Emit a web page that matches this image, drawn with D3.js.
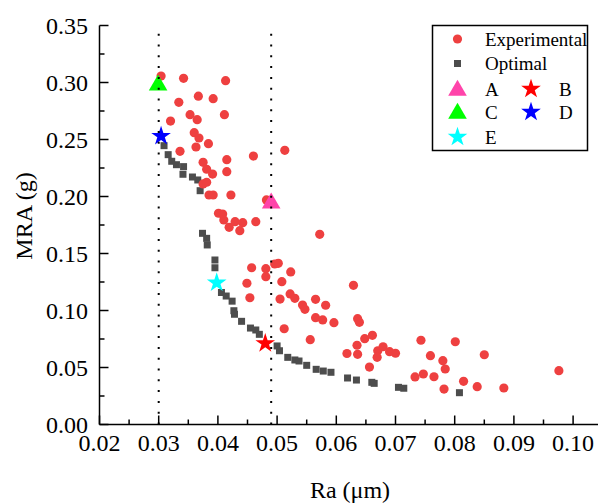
<!DOCTYPE html>
<html>
<head>
<meta charset="utf-8">
<script src="https://cdn.jsdelivr.net/npm/d3@7"></script>
<style>
  body { margin: 0; background: white; }
  svg { display: block; font-family: "Liberation Serif", "Times New Roman", serif; }
</style>
</head>
<body>
<div id="chart"></div>
<script>
// ----------------------------------------
// DATA
// ----------------------------------------
const expRa = [0.0304, 0.0342, 0.0413, 0.0367, 0.0392, 0.0334, 0.0353, 0.0365, 0.0411, 0.0320,
  0.0360, 0.0368, 0.0363, 0.0384, 0.0336, 0.0415, 0.0460, 0.0513, 0.0375, 0.0381,
  0.0391, 0.0415, 0.0375, 0.0381, 0.0385, 0.0392, 0.0422, 0.0482, 0.0401, 0.0408,
  0.0410, 0.0429, 0.0442, 0.0419, 0.0437, 0.0464, 0.0572, 0.0457, 0.0481, 0.0496,
  0.0502, 0.0523, 0.0481, 0.0449, 0.0508, 0.0454, 0.0505, 0.0522, 0.0530, 0.0543,
  0.0547, 0.0565, 0.0582, 0.0565, 0.0577, 0.0596, 0.0512, 0.0556, 0.0618, 0.0629,
  0.0636, 0.0639, 0.0648, 0.0661, 0.0635, 0.0636, 0.0679, 0.0670, 0.0669, 0.0690,
  0.0700, 0.0656, 0.0743, 0.0801, 0.0759, 0.0780, 0.0784, 0.0850, 0.0747, 0.0733,
  0.0765, 0.0815, 0.0782, 0.0838, 0.0883, 0.0976];
const expMRA = [0.3057, 0.3037, 0.3016, 0.2880, 0.2858, 0.2826, 0.2718, 0.2674, 0.2718, 0.2662,
  0.2560, 0.2513, 0.2434, 0.2463, 0.2396, 0.2323, 0.2355, 0.2405, 0.2300, 0.2239,
  0.2197, 0.2218, 0.2110, 0.2125, 0.2013, 0.2013, 0.2013, 0.1970, 0.1853, 0.1846,
  0.1794, 0.1779, 0.1770, 0.1730, 0.1700, 0.1779, 0.1668, 0.1375, 0.1367, 0.1408,
  0.1414, 0.1338, 0.1297, 0.1239, 0.1253, 0.1112, 0.1100, 0.1145, 0.1107, 0.1048,
  0.1010, 0.1098, 0.1046, 0.0937, 0.0917, 0.0893, 0.0840, 0.0744, 0.0623, 0.1221,
  0.0928, 0.0896, 0.0753, 0.0782, 0.0695, 0.0616, 0.0682, 0.0647, 0.0589, 0.0639,
  0.0625, 0.0504, 0.0739, 0.0726, 0.0604, 0.0560, 0.0487, 0.0612, 0.0443, 0.0417,
  0.0419, 0.0379, 0.0311, 0.0332, 0.0320, 0.0472];

const optRa = [0.0309, 0.0316, 0.0322, 0.0330, 0.0342, 0.0341, 0.0357, 0.0366, 0.0370, 0.0374,
  0.0381, 0.0382, 0.0395, 0.0395, 0.0406, 0.0414, 0.0424, 0.0427, 0.0428, 0.0440,
  0.0455, 0.0464, 0.0470, 0.0500, 0.0504, 0.0518, 0.0530, 0.0537, 0.0550, 0.0566,
  0.0578, 0.0591, 0.0619, 0.0634, 0.0660, 0.0664, 0.0705, 0.0714, 0.0808];
const optMRA = [0.2446, 0.2367, 0.2309, 0.2279, 0.2262, 0.2195, 0.2171, 0.2145, 0.2051, 0.1677,
  0.1633, 0.1575, 0.1443, 0.1375, 0.1158, 0.1127, 0.1082, 0.0998, 0.0967, 0.0905,
  0.0846, 0.0829, 0.0791, 0.0689, 0.0647, 0.0589, 0.0566, 0.0557, 0.0519, 0.0484,
  0.0469, 0.0458, 0.0408, 0.0390, 0.0370, 0.0361, 0.0326, 0.0318, 0.0279];

// special points A..E
const pointNames = ["A", "B", "C", "D", "E"];
const pointRa = [0.0490, 0.0480, 0.0299, 0.0304, 0.0398];
const pointMRA = [0.1955, 0.0712, 0.2990, 0.2530, 0.1244];
const pointShapes = ["triangle", "star", "triangle", "star", "star"];
const pointColors = ["#FF44AA", "#FF0000", "#00FF00", "#0000FF", "#00FFFF"];

const refLines = [0.030, 0.049];

const xTicks = [0.02, 0.03, 0.04, 0.05, 0.06, 0.07, 0.08, 0.09, 0.10];
const yTicks = [0.00, 0.05, 0.10, 0.15, 0.20, 0.25, 0.30, 0.35];

const expColor = "#EE4040";
const optColor = "#4D4D4D";

// ----------------------------------------
// SETUP
// ----------------------------------------
const width = 598, height = 504;
const svg = d3.select("#chart").append("svg")
  .attr("width", width)
  .attr("height", height);

const x = d3.scaleLinear().domain([0.02, 0.105]).range([99.5, 602.7]);
const y = d3.scaleLinear().domain([0, 0.35]).range([424.5, 25.5]);

const sym = {
  triangle: d3.symbol().type(d3.symbolTriangle).size(150),
  star: d3.symbol().type(d3.symbolStar).size(120)
};

// ----------------------------------------
// AXES
// ----------------------------------------
const minorX = d3.range(0, 18).map(i => 0.02 + i * 0.005).filter(v => v <= 0.104);
const minorY = d3.range(0, 15).map(i => i * 0.025);

const axisG = svg.append("g").attr("stroke", "black");

axisG.append("line")
  .attr("x1", x(0.02)).attr("x2", width)
  .attr("y1", y(0)).attr("y2", y(0))
  .attr("stroke-width", 1.5);
axisG.append("line")
  .attr("x1", x(0.02)).attr("x2", x(0.02))
  .attr("y1", y(0)).attr("y2", y(0.35))
  .attr("stroke-width", 1.5);

axisG.selectAll(".xtick")
  .data(minorX)
  .join("line")
  .attr("x1", d => x(d)).attr("x2", d => x(d))
  .attr("y1", y(0))
  .attr("y2", (d, i) => y(0) - (i % 2 === 0 ? 9 : 5))
  .attr("stroke-width", 1.5);

axisG.selectAll(".ytick")
  .data(minorY)
  .join("line")
  .attr("y1", d => y(d)).attr("y2", d => y(d))
  .attr("x1", x(0.02))
  .attr("x2", (d, i) => x(0.02) + (i % 2 === 0 ? 9 : 5))
  .attr("stroke-width", 1.5);

svg.selectAll(".xlab")
  .data(xTicks)
  .join("text")
  .attr("x", d => x(d))
  .attr("y", 451)
  .attr("text-anchor", "middle")
  .style("font-size", "24px")
  .text(d => d.toFixed(2));

svg.selectAll(".ylab")
  .data(yTicks)
  .join("text")
  .attr("x", 88)
  .attr("y", d => y(d))
  .attr("dy", "0.35em")
  .attr("text-anchor", "end")
  .style("font-size", "24px")
  .text(d => d.toFixed(2));

svg.append("text")
  .attr("x", 350)
  .attr("y", 498)
  .attr("text-anchor", "middle")
  .style("font-size", "24px")
  .text("Ra (μm)");

svg.append("text")
  .attr("transform", "translate(24,216) rotate(-90)")
  .attr("text-anchor", "middle")
  .attr("dy", "0.35em")
  .style("font-size", "24px")
  .text("MRA (g)");

// ----------------------------------------
// POINTS
// ----------------------------------------
svg.selectAll(".opt")
  .data(optRa.map((r, i) => ({ ra: r, mra: optMRA[i] })))
  .join("rect")
  .attr("x", d => x(d.ra) - 3.5)
  .attr("y", d => y(d.mra) - 3.5)
  .attr("width", 7)
  .attr("height", 7)
  .attr("fill", optColor);

svg.selectAll(".exp")
  .data(expRa.map((r, i) => ({ ra: r, mra: expMRA[i] })))
  .join("circle")
  .attr("cx", d => x(d.ra))
  .attr("cy", d => y(d.mra))
  .attr("r", 4.6)
  .attr("fill", expColor);

svg.selectAll(".special")
  .data(pointNames.map((n, i) => ({ name: n, ra: pointRa[i], mra: pointMRA[i], shape: pointShapes[i], color: pointColors[i] })))
  .join("path")
  .attr("transform", d => `translate(${x(d.ra)},${y(d.mra) + (d.shape === "triangle" ? 1.5 : 0)})`)
  .attr("d", d => sym[d.shape]())
  .attr("fill", d => d.color);

// dotted reference lines
svg.selectAll(".ref")
  .data(refLines)
  .join("line")
  .attr("x1", d => x(d)).attr("x2", d => x(d))
  .attr("y1", y(0)).attr("y2", 27)
  .attr("stroke", "black")
  .attr("stroke-width", 2)
  .attr("stroke-dasharray", "2,8.8");

// ----------------------------------------
// LEGEND
// ----------------------------------------
const leg = svg.append("g");
leg.append("rect")
  .attr("x", 432.5).attr("y", 25.5)
  .attr("width", 155).attr("height", 125)
  .attr("fill", "white")
  .attr("stroke", "black")
  .attr("stroke-width", 1.5);

const legRows = [39, 63.5, 89, 112, 137];
const legCols = [457.5, 531];

leg.append("circle").attr("cx", legCols[0]).attr("cy", legRows[0]).attr("r", 4.6).attr("fill", expColor);
leg.append("text").attr("x", 485).attr("y", legRows[0]).attr("dy", "0.35em").style("font-size", "19px").text("Experimental");
leg.append("rect").attr("x", legCols[0] - 3.5).attr("y", legRows[1] - 3.5).attr("width", 7).attr("height", 7).attr("fill", optColor);
leg.append("text").attr("x", 485).attr("y", legRows[1]).attr("dy", "0.35em").style("font-size", "19px").text("Optimal");

pointNames.forEach((n, i) => {
  const row = legRows[2 + Math.floor(i / 2)];
  const col = i % 2;
  leg.append("path")
    .attr("transform", `translate(${legCols[col]},${row + (pointShapes[i] === "triangle" ? 1.5 : 0)})`)
    .attr("d", sym[pointShapes[i]]())
    .attr("fill", pointColors[i]);
  leg.append("text")
    .attr("x", col === 0 ? 485 : 559)
    .attr("y", row)
    .attr("dy", "0.35em")
    .style("font-size", "19px")
    .text(n);
});
</script>
</body>
</html>
